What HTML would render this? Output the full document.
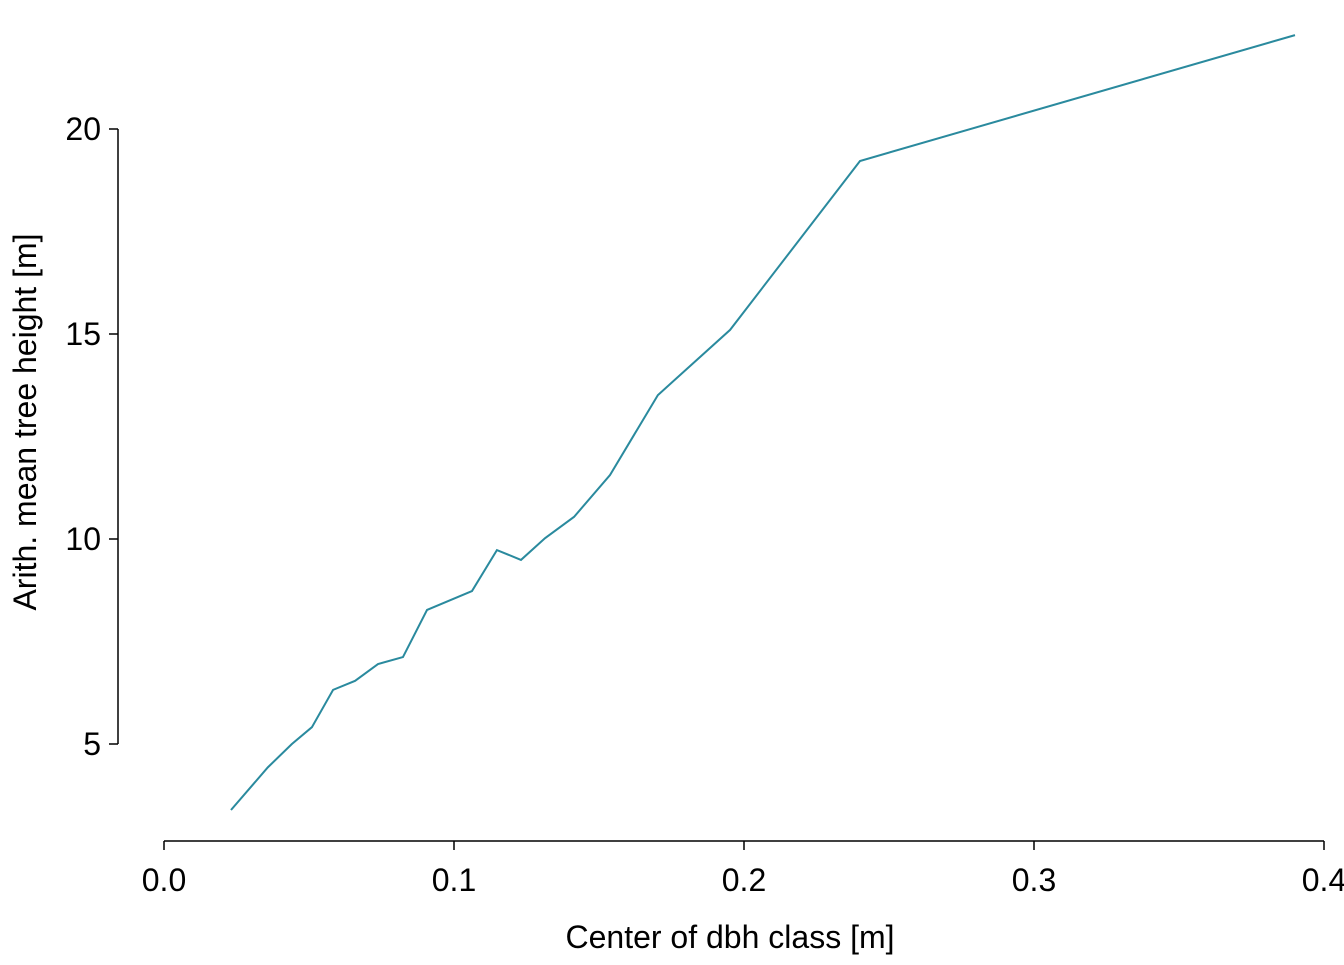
<!DOCTYPE html>
<html><head><meta charset="utf-8"><style>
body{margin:0;background:#fff}
svg text{font-family:"Liberation Sans",Arial,sans-serif;font-size:32px;fill:#000}
</style></head><body>
<svg width="1344" height="960">
<g id="axes"></g>
<polyline id="series" fill="none" stroke="#2a8a9e" stroke-width="2"/>
<text x="730" y="948" text-anchor="middle">Center of dbh class [m]</text>
<text transform="translate(36,422) rotate(-90)" text-anchor="middle">Arith. mean tree height [m]</text>
</svg>
<script>
const dbh=[0.0231,0.0358,0.0441,0.0510,0.0583,0.0659,0.0738,0.0824,0.0907,0.1062,0.1148,0.1231,0.1314,0.1414,0.1538,0.1703,0.1952,0.2400,0.3900];
const height=[3.39,4.43,5.0,5.41,6.32,6.54,6.95,7.12,8.27,8.73,9.73,9.49,10.02,10.54,11.56,13.51,15.10,19.22,22.29];
const xTicks=[0,0.1,0.2,0.3,0.4];
const xLabels=["0.0","0.1","0.2","0.3","0.4"];
const yTicks=[5,10,15,20];
const yLabels=["5","10","15","20"];
const X=v=>164+v*2900, Y=v=>744-(v-5)*41;
const ns="http://www.w3.org/2000/svg", ax=document.getElementById('axes');
function mk(t,a){const e=document.createElementNS(ns,t);for(const k in a)e.setAttribute(k,a[k]);ax.appendChild(e);return e;}
let e=mk('line',{x1:X(0),x2:X(0.4),y1:841,y2:841,stroke:'#000','stroke-width':1.5});


e=mk('line',{x1:118,x2:118,y1:Y(20),y2:Y(5),stroke:'#000','stroke-width':1.5});


xTicks.forEach((t,i)=>{
 let l=mk('line',{x1:X(t),x2:X(t),y1:841,y2:850,stroke:'#000','stroke-width':1.5});
 
 
 let s=mk('text',{x:X(t),y:891,'text-anchor':'middle'});s.textContent=xLabels[i];
 
 
});
yTicks.forEach((t,i)=>{
 let l=mk('line',{x1:109,x2:118,y1:Y(t),y2:Y(t),stroke:'#000','stroke-width':1.5});
 
 
 let s=mk('text',{x:101,y:Y(t)+11,'text-anchor':'end'});s.textContent=yLabels[i];
 
 
});
document.getElementById('series').setAttribute('points',dbh.map((d,i)=>X(d)+','+Y(height[i])).join(' '));
</script>
</body></html>
